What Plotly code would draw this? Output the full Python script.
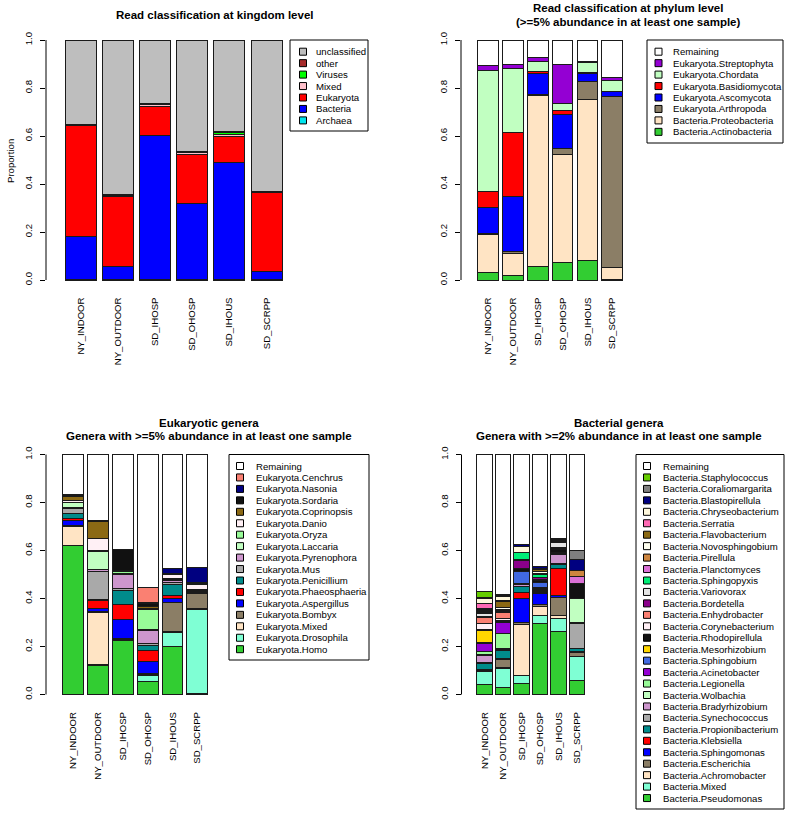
import plotly.graph_objects as go

# ---------------- data ----------------
samples = ["NY_INDOOR", "NY_OUTDOOR", "SD_IHOSP", "SD_OHOSP", "SD_IHOUS", "SD_SCRPP"]

# Panel 1: kingdom (bottom -> top)
kingdom_names = ["Archaea", "Bacteria", "Eukaryota", "Mixed", "Viruses", "other", "unclassified"]
kingdom_colors = ["#00E5EE", "#0000FF", "#FF0000", "#FFC0CB", "#00FF00", "#A52A2A", "#BEBEBE"]
kingdom_values = [
    [0.001, 0.0005, 0.001, 0.001, 0.001, 0.0005],
    [0.179, 0.0575, 0.603, 0.319, 0.489, 0.037],
    [0.462, 0.292, 0.118, 0.205, 0.107, 0.3265],
    [0.002, 0.001, 0.009, 0.006, 0.010, 0.001],
    [0.0005, 0.0005, 0.001, 0.001, 0.008, 0.0005],
    [0.0045, 0.0035, 0.004, 0.003, 0.004, 0.0035],
    [0.351, 0.645, 0.264, 0.465, 0.381, 0.631],
]

# Panel 2: phylum (bottom -> top)
phylum_names = ["Bacteria.Actinobacteria", "Bacteria.Proteobacteria", "Eukaryota.Arthropoda",
                "Eukaryota.Ascomycota", "Eukaryota.Basidiomycota", "Eukaryota.Chordata",
                "Eukaryota.Streptophyta", "Remaining"]
phylum_colors = ["#32CD32", "#FFE4C4", "#8B7E66", "#0000FF", "#FF0000", "#C1FFC1", "#9400D3", "#FFFFFF"]
phylum_values = [
    [0.032, 0.018, 0.058, 0.074, 0.080, 0.004],
    [0.158, 0.093, 0.709, 0.450, 0.673, 0.047],
    [0.004, 0.007, 0.004, 0.025, 0.076, 0.713],
    [0.109, 0.232, 0.090, 0.139, 0.032, 0.021],
    [0.065, 0.264, 0.007, 0.020, 0.002, 0.001],
    [0.503, 0.269, 0.042, 0.028, 0.042, 0.047],
    [0.024, 0.014, 0.016, 0.162, 0.007, 0.010],
    [0.105, 0.103, 0.074, 0.102, 0.088, 0.157],
]

# Panel 3: eukaryotic genera (bottom -> top)
euk_names = ["Eukaryota.Homo", "Eukaryota.Drosophila", "Eukaryota.Mixed", "Eukaryota.Bombyx",
             "Eukaryota.Aspergillus", "Eukaryota.Phaeosphaeria", "Eukaryota.Penicillium",
             "Eukaryota.Mus", "Eukaryota.Pyrenophora", "Eukaryota.Laccaria", "Eukaryota.Oryza",
             "Eukaryota.Danio", "Eukaryota.Coprinopsis", "Eukaryota.Sordaria", "Eukaryota.Nasonia",
             "Eukaryota.Cenchrus", "Remaining"]
euk_colors = ["#32CD32", "#7FFFD4", "#FFE4C4", "#8B7E66", "#0000FF", "#FF0000", "#008B8B",
              "#A9A9A9", "#CD96CD", "#C1FFC1", "#98FB98", "#FFF0F5", "#8B6914", "#111111",
              "#000080", "#FA8072", "#FFFFFF"]
euk_values = [
    [0.619, 0.119, 0.224, 0.053, 0.202, 0.005],
    [0.003, 0.004, 0.003, 0.028, 0.056, 0.350],
    [0.080, 0.218, 0.002, 0.003, 0.003, 0.002],
    [0.003, 0.003, 0.005, 0.003, 0.122, 0.065],
    [0.022, 0.015, 0.079, 0.050, 0.018, 0.002],
    [0.008, 0.031, 0.060, 0.045, 0.011, 0.001],
    [0.020, 0.004, 0.062, 0.024, 0.047, 0.003],
    [0.018, 0.117, 0.005, 0.006, 0.008, 0.002],
    [0.005, 0.008, 0.060, 0.056, 0.008, 0.002],
    [0.020, 0.078, 0.004, 0.004, 0.004, 0.002],
    [0.003, 0.002, 0.008, 0.084, 0.004, 0.002],
    [0.006, 0.050, 0.002, 0.004, 0.015, 0.022],
    [0.016, 0.072, 0.004, 0.008, 0.003, 0.003],
    [0.006, 0.002, 0.085, 0.010, 0.004, 0.006],
    [0.002, 0.000, 0.002, 0.004, 0.020, 0.062],
    [0.002, 0.000, 0.000, 0.063, 0.001, 0.000],
    [0.167, 0.277, 0.395, 0.555, 0.474, 0.471],
]

# Panel 4: bacterial genera (bottom -> top)
bac_names = ["Bacteria.Pseudomonas", "Bacteria.Mixed", "Bacteria.Achromobacter", "Bacteria.Escherichia",
             "Bacteria.Sphingomonas", "Bacteria.Klebsiella", "Bacteria.Propionibacterium",
             "Bacteria.Synechococcus", "Bacteria.Bradyrhizobium", "Bacteria.Wolbachia",
             "Bacteria.Legionella", "Bacteria.Acinetobacter", "Bacteria.Sphingobium",
             "Bacteria.Mesorhizobium", "Bacteria.Rhodopirellula", "Bacteria.Corynebacterium",
             "Bacteria.Enhydrobacter", "Bacteria.Bordetella", "Bacteria.Variovorax",
             "Bacteria.Sphingopyxis", "Bacteria.Planctomyces", "Bacteria.Pirellula",
             "Bacteria.Novosphingobium", "Bacteria.Flavobacterium", "Bacteria.Serratia",
             "Bacteria.Chryseobacterium", "Bacteria.Blastopirellula", "Bacteria.Coraliomargarita",
             "Bacteria.Staphylococcus", "Remaining"]
bac_colors = ["#32CD32", "#7FFFD4", "#FFE4C4", "#8B7E66", "#0000FF", "#FF0000", "#008B8B",
              "#A9A9A9", "#CD96CD", "#C1FFC1", "#98FB98", "#9400D3", "#4169E1", "#FFD700",
              "#111111", "#FFF0F5", "#FA8072", "#8B008B", "#E5E5E5", "#00EE76", "#DA70D6",
              "#CD853F", "#FFFFF0", "#8B6914", "#FF69B4", "#FFF8DC", "#000080", "#7F7F7F",
              "#66CD00", "#FFFFFF"]
bac_values = [
    [0.043, 0.031, 0.044, 0.294, 0.262, 0.060],
    [0.052, 0.079, 0.037, 0.037, 0.056, 0.098],
    [0.002, 0.002, 0.209, 0.035, 0.010, 0.002],
    [0.003, 0.032, 0.012, 0.011, 0.077, 0.015],
    [0.004, 0.006, 0.099, 0.045, 0.008, 0.003],
    [0.002, 0.000, 0.023, 0.003, 0.113, 0.000],
    [0.025, 0.033, 0.025, 0.006, 0.017, 0.012],
    [0.003, 0.002, 0.003, 0.004, 0.002, 0.107],
    [0.030, 0.002, 0.008, 0.003, 0.040, 0.002],
    [0.004, 0.003, 0.002, 0.000, 0.002, 0.099],
    [0.012, 0.063, 0.000, 0.004, 0.002, 0.000],
    [0.032, 0.047, 0.000, 0.003, 0.000, 0.000],
    [0.003, 0.004, 0.051, 0.020, 0.003, 0.000],
    [0.052, 0.000, 0.000, 0.000, 0.000, 0.000],
    [0.004, 0.003, 0.010, 0.012, 0.012, 0.065],
    [0.025, 0.010, 0.000, 0.004, 0.006, 0.000],
    [0.024, 0.025, 0.000, 0.000, 0.000, 0.000],
    [0.004, 0.002, 0.036, 0.008, 0.002, 0.000],
    [0.015, 0.004, 0.004, 0.000, 0.022, 0.000],
    [0.003, 0.002, 0.028, 0.010, 0.000, 0.000],
    [0.003, 0.002, 0.000, 0.003, 0.000, 0.028],
    [0.004, 0.003, 0.000, 0.004, 0.000, 0.027],
    [0.004, 0.008, 0.002, 0.005, 0.004, 0.000],
    [0.006, 0.025, 0.000, 0.008, 0.004, 0.000],
    [0.020, 0.002, 0.000, 0.000, 0.004, 0.000],
    [0.020, 0.017, 0.022, 0.006, 0.000, 0.000],
    [0.002, 0.003, 0.008, 0.010, 0.000, 0.046],
    [0.002, 0.004, 0.000, 0.000, 0.003, 0.036],
    [0.025, 0.003, 0.000, 0.000, 0.000, 0.000],
    [0.572, 0.583, 0.377, 0.465, 0.351, 0.400],
]

ytick_vals = [0, 0.2, 0.4, 0.6, 0.8, 1.0]
ytick_text = ["0.0", "0.2", "0.4", "0.6", "0.8", "1.0"]

# ---------------- layout helpers ----------------
W, H = 787, 814
FONT = "Liberation Sans, Arial, Helvetica, sans-serif"


def PX(x):
    return x / W


def PY(y):
    return 1 - y / H


panels = [
    dict(names=kingdom_names, colors=kingdom_colors, values=kingdom_values,
         axis_x=46, c0=80.5, pitch=37.2, right=288, zero=280, one=40,
         titles=["Read classification at kingdom level"], tcx=214, tcy=[15],
         leg=dict(x0=290, x1=368, y0=40, y1=131, sx=303, tx=314, first=51.7)),
    dict(names=phylum_names, colors=phylum_colors, values=phylum_values,
         axis_x=461, c0=488.2, pitch=24.8, right=640, zero=280, one=40,
         titles=["Read classification at phylum level", "(>=5% abundance in at least one sample)"],
         tcx=628, tcy=[8, 22],
         leg=dict(x0=647, x1=783, y0=40, y1=143, sx=658.5, tx=671, first=51.7)),
    dict(names=euk_names, colors=euk_colors, values=euk_values,
         axis_x=46, c0=73.3, pitch=24.8, right=225, zero=694.5, one=454.5,
         titles=["Eukaryotic genera", "Genera with >=5% abundance in at least one sample"],
         tcx=209, tcy=[422.5, 436.5],
         leg=dict(x0=229, x1=369, y0=454.5, y1=660, sx=240, tx=254, first=466)),
    dict(names=bac_names, colors=bac_colors, values=bac_values,
         axis_x=461.5, c0=484.5, pitch=18.5, right=630, zero=694.5, one=454.5,
         titles=["Bacterial genera", "Genera with >=2% abundance in at least one sample"],
         tcx=619, tcy=[422.5, 436.5],
         leg=dict(x0=636, x1=784, y0=454.5, y1=809, sx=647, tx=661, first=466)),
]

LEG_STEP = 11.45
BAR_W = 1 / 1.2

fig = go.Figure()
shapes = []
annotations = []
layout_axes = {}

for k, p in enumerate(panels, start=1):
    xname = "x" if k == 1 else f"x{k}"
    yname = "y" if k == 1 else f"y{k}"
    idx = list(range(len(samples)))
    for name, col, vals in zip(p["names"], p["colors"], p["values"]):
        fig.add_trace(go.Bar(
            x=idx, y=vals, width=BAR_W, name=name,
            marker=dict(color=col, line=dict(color="#1a1a1a", width=1)),
            xaxis=xname, yaxis=yname, showlegend=False, hoverinfo="name+y"))

    h = p["zero"] - p["one"]
    pad = 0.04 * h
    xr = [(p["axis_x"] - p["c0"]) / p["pitch"], (p["right"] - p["c0"]) / p["pitch"]]
    layout_axes["xaxis" if k == 1 else f"xaxis{k}"] = dict(
        domain=[PX(p["axis_x"]), PX(p["right"])], range=xr, anchor=yname,
        tickmode="array", tickvals=idx, ticktext=samples, tickangle=-90,
        ticks="", showline=False, showgrid=False, zeroline=False, ticklabelstandoff=5,
        tickfont=dict(family=FONT, size=9.6, color="black"), fixedrange=True)
    layout_axes["yaxis" if k == 1 else f"yaxis{k}"] = dict(
        domain=[PY(p["zero"] + pad), PY(p["one"] - pad)], range=[-0.04, 1.04], anchor=xname,
        tickmode="array", tickvals=ytick_vals, ticktext=ytick_text, tickangle=-90,
        ticks="outside", ticklen=5, tickcolor="black", tickwidth=1, ticklabelstandoff=4,
        showline=False, showgrid=False, zeroline=False,
        tickfont=dict(family=FONT, size=9.6, color="black"), fixedrange=True)

    # y axis line (from 0 to 1 only, like R)
    shapes.append(dict(type="line", xref="paper", yref="paper",
                       x0=PX(p["axis_x"]), x1=PX(p["axis_x"]), y0=PY(p["zero"]), y1=PY(p["one"]),
                       line=dict(color="black", width=1)))

    # titles
    for t, ty in zip(p["titles"], p["tcy"]):
        annotations.append(dict(text=f"<b>{t}</b>", xref="paper", yref="paper",
                                x=PX(p["tcx"]), y=PY(ty), xanchor="center", yanchor="middle",
                                showarrow=False, font=dict(family=FONT, size=11.5, color="black")))

    # legend (top -> bottom is reverse of stacking order)
    lg = p["leg"]
    shapes.append(dict(type="rect", xref="paper", yref="paper",
                       x0=PX(lg["x0"]), x1=PX(lg["x1"]), y0=PY(lg["y0"]), y1=PY(lg["y1"]),
                       line=dict(color="black", width=1), fillcolor="rgba(0,0,0,0)"))
    for i, (name, col) in enumerate(zip(p["names"][::-1], p["colors"][::-1])):
        yy = lg["first"] + i * LEG_STEP
        shapes.append(dict(type="rect", xref="paper", yref="paper",
                           x0=PX(lg["sx"] - 3.5), x1=PX(lg["sx"] + 3.5),
                           y0=PY(yy - 3.5), y1=PY(yy + 3.5),
                           line=dict(color="black", width=1), fillcolor=col))
        annotations.append(dict(text=name, xref="paper", yref="paper",
                                x=PX(lg["tx"]), y=PY(yy), xanchor="left", yanchor="middle",
                                showarrow=False, font=dict(family=FONT, size=9.6, color="black")))

annotations.append(dict(text="Proportion", xref="paper", yref="paper", x=PX(10), y=PY(161),
                        xanchor="center", yanchor="middle", textangle=-90, showarrow=False,
                        font=dict(family=FONT, size=9.6, color="black")))

fig.update_layout(
    width=W, height=H, autosize=False,
    margin=dict(l=0, r=0, t=0, b=0),
    paper_bgcolor="white", plot_bgcolor="white",
    barmode="stack", bargap=0,
    shapes=shapes, annotations=annotations,
    font=dict(family=FONT, size=9.6, color="black"),
    **layout_axes,
)

fig.write_html("out.html", config={"displayModeBar": False, "staticPlot": True},
               post_script="document.body.style.margin='0px';document.body.style.overflow='hidden';")
